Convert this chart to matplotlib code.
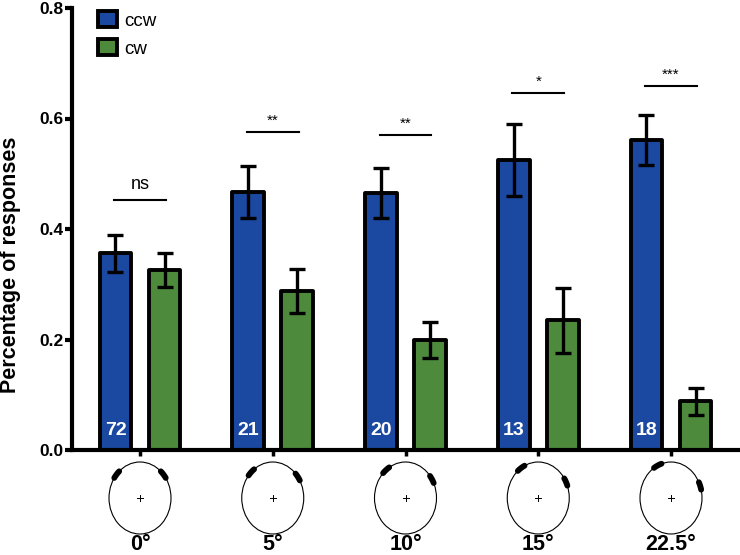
import matplotlib
matplotlib.use("Agg")
import matplotlib.pyplot as plt
from matplotlib.patches import Ellipse, Arc
import numpy as np

# ---- data ----
rotations = [0, 5, 10, 15, 22.5]
categories = ["0°", "5°", "10°", "15°", "22.5°"]
ccw_vals = [0.356, 0.467, 0.465, 0.525, 0.561]
ccw_err = [0.034, 0.047, 0.045, 0.065, 0.045]
cw_vals = [0.326, 0.288, 0.199, 0.235, 0.088]
cw_err = [0.031, 0.040, 0.033, 0.059, 0.025]
counts = ["72", "21", "20", "13", "18"]
sig_labels = ["ns", "**", "**", "*", "***"]
sig_heights = [0.453, 0.576, 0.570, 0.646, 0.659]
yticks = [0.0, 0.2, 0.4, 0.6, 0.8]

plt.rcParams['font.family'] = ['Liberation Sans', 'DejaVu Sans']

W, H = 740, 555
fig = plt.figure(figsize=(W / 100, H / 100), dpi=100)

px_per_unit = 132.75
ax_left, ax_right, ax_top, ax_bot = 72, 740, 8, 450
ax = fig.add_axes([ax_left / W, 1 - ax_bot / H, (ax_right - ax_left) / W, (ax_bot - ax_top) / H])
x0 = 140
xlim = ((ax_left - x0) / px_per_unit, (ax_right - x0) / px_per_unit)
ax.set_xlim(*xlim)
ax.set_ylim(0, 0.8)

blue = "#1b48a0"
green = "#4e8a3c"
x = np.arange(len(categories))
off = 0.185
bw = 0.24
lw_edge = 2.8
b1 = ax.bar(x - off, ccw_vals, bw, color=blue, edgecolor="black", linewidth=lw_edge, label="ccw", zorder=2)
b2 = ax.bar(x + off, cw_vals, bw, color=green, edgecolor="black", linewidth=lw_edge, label="cw", zorder=2)
for p in list(b1) + list(b2):
    p.set_joinstyle("round")

ax.errorbar(x - off, ccw_vals, yerr=ccw_err, fmt="none", ecolor="black", elinewidth=2.4,
            capsize=6, capthick=2.4, zorder=3)
ax.errorbar(x + off, cw_vals, yerr=cw_err, fmt="none", ecolor="black", elinewidth=2.4,
            capsize=6, capthick=2.4, zorder=3)

for xi, c in zip(x, counts):
    ax.text(xi - off, 0.036, c, color="white", fontsize=14, fontweight="bold",
            ha="center", va="center", zorder=4)

half = 0.195
for xi, lab, h in zip(x, sig_labels, sig_heights):
    ax.plot([xi - half, xi + half], [h, h], color="black", lw=1.5, zorder=3)
    if lab == "ns":
        ax.text(xi, h + 0.012, lab, ha="center", va="bottom", fontsize=13)
    else:
        ax.text(xi, h + 0.008, lab, ha="center", va="bottom", fontsize=11)

for side in ["top", "right"]:
    ax.spines[side].set_visible(False)
ax.spines["left"].set_linewidth(3)
ax.spines["bottom"].set_linewidth(3)
ax.set_yticks(yticks)
ax.set_yticklabels([f"{v:.1f}" for v in yticks], fontsize=12.5, fontweight="bold")
ax.tick_params(axis="y", length=5, width=3, pad=1)
ax.set_xticks(x)
ax.set_xticklabels([])
ax.tick_params(axis="x", length=4, width=2.5, direction="out")

leg = ax.legend(handles=[b1, b2], loc="upper left", bbox_to_anchor=(0.039, 0.993),
                frameon=False, fontsize=13.5, handlelength=1.0, handleheight=0.95,
                handletextpad=0.4, labelspacing=0.5, borderpad=0, borderaxespad=0)

fig.text(0.0145, 1 - 265 / H, "Percentage of responses", rotation=90, ha="center", va="center",
         fontsize=15.5, fontweight="bold")

# ---- stimulus icons ----
c_top, c_bot = 456, 540
ax2 = fig.add_axes([ax_left / W, 1 - c_bot / H, (ax_right - ax_left) / W, (c_bot - c_top) / H])
ax2.set_xlim(*xlim)
hspan = (c_bot - c_top) / 2 / px_per_unit
ax2.set_ylim(-hspan, hspan)
ax2.axis("off")
ew = 62 / px_per_unit
eh = 72 / px_per_unit
for xi, rot, lab in zip(x, rotations, categories):
    ax2.add_patch(Ellipse((xi, 0), ew, eh, fill=False, lw=0.8, edgecolor="black"))
    for base in (-45, 45):
        phi = base + rot
        std = 90 - phi
        ax2.add_patch(Arc((xi, 0), ew, eh, theta1=std - 7, theta2=std + 7,
                          lw=4.2, color="black", capstyle="round"))
    pl = 3 / px_per_unit
    ax2.plot([xi - pl, xi + pl], [0, 0], color="black", lw=0.7)
    ax2.plot([xi, xi], [-pl, pl], color="black", lw=0.7)
    ax2.text(xi, -46 / px_per_unit, lab, ha="center", va="center", fontsize=15.5,
             fontweight="bold", clip_on=False)

fig.savefig("out.png", dpi=100)
